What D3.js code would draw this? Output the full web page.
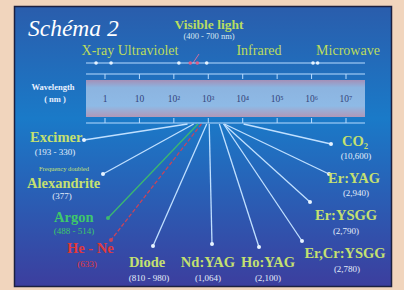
<!DOCTYPE html>
<html>
<head>
<meta charset="utf-8">
<script src="https://cdn.jsdelivr.net/npm/d3@7"></script>
<style>
  body { margin: 0; background: #f1d5bd; }
  svg { display: block; }
  text { font-family: "Liberation Serif", "DejaVu Serif", serif; }
</style>
</head>
<body>
<div id="chart"></div>
<script>
// spectrum ticks (nm)
var tickValues = [1, 10, 100, 1000, 1e4, 1e5, 1e6, 1e7];
var tickLabels = ["1", "10", "10²", "10³", "10⁴", "10⁵", "10⁶", "10⁷"];

// region names above the band
var regionNames = ["X-ray Ultraviolet", "Infrared", "Microwave"];
var regionDots = [0.55, 1.5, 140, 300, 480, 900, 1.1e6, 1.5e6];

// lasers
var laserNames = ["Excimer", "Alexandrite", "Argon", "He - Ne", "Diode", "Nd:YAG",
                  "Ho:YAG", "Er,Cr:YSGG", "Er:YSGG", "Er:YAG", "CO₂"];
var laserNm = [250, 377, 500, 633, 900, 1064, 2100, 2780, 2790, 2940, 10600];
var laserRange = ["(193 - 330)", "(377)", "(488 - 514)", "(633)", "(810 - 980)", "(1,064)",
                  "(2,100)", "(2,780)", "(2,790)", "(2,940)", "(10,600)"];

// layout for the fan of lines and labels (pixels)
var layout = [
  {ex: 84,  ey: 140, nx: 30,  ny: 142, vx: 55,  vy: 155, a: "start"},
  {ex: 103, ey: 174, nx: 27,  ny: 188, vx: 62,  vy: 199, a: "start"},
  {ex: 108, ey: 218, nx: 54,  ny: 222, vx: 74,  vy: 234, a: "start"},
  {ex: 111, ey: 240, nx: 67,  ny: 253, vx: 87,  vy: 267, a: "start"},
  {ex: 153, ey: 246, nx: 147, ny: 267, vx: 149, vy: 281, a: "middle"},
  {ex: 212, ey: 244, nx: 208, ny: 267, vx: 208, vy: 281, a: "middle"},
  {ex: 259, ey: 247, nx: 268, ny: 267, vx: 268, vy: 281, a: "middle"},
  {ex: 302, ey: 241, nx: 345, ny: 258, vx: 347, vy: 272, a: "middle"},
  {ex: 310, ey: 202, nx: 346, ny: 220, vx: 346, vy: 234, a: "middle"},
  {ex: 329, ey: 174, nx: 354, ny: 183, vx: 356, vy: 196, a: "middle"},
  {ex: 331, ey: 144, nx: 355, ny: 146, vx: 356, vy: 159, a: "middle"}
];
var nameColor = {"Argon": "#3ec86a", "He - Ne": "#e0383a"};
var lineColor = {"Argon": "#3bb870", "He - Ne": "#c8445a"};

var width = 404, height = 290;
var svg = d3.select("#chart").append("svg")
  .attr("width", width).attr("height", height);

var defs = svg.append("defs");
var bg = defs.append("linearGradient").attr("id", "bg")
  .attr("x1", 0).attr("y1", 0).attr("x2", 0).attr("y2", 1);
bg.append("stop").attr("offset", "0%").attr("stop-color", "#2a5dac");
bg.append("stop").attr("offset", "40%").attr("stop-color", "#1a7ac8");
bg.append("stop").attr("offset", "100%").attr("stop-color", "#3c3e9e");

var band = defs.append("linearGradient").attr("id", "band")
  .attr("x1", 0).attr("y1", 0).attr("x2", 0).attr("y2", 1);
band.append("stop").attr("offset", "0%").attr("stop-color", "#a490b8");
band.append("stop").attr("offset", "20%").attr("stop-color", "#8cb4e0");
band.append("stop").attr("offset", "70%").attr("stop-color", "#8ebae6");
band.append("stop").attr("offset", "100%").attr("stop-color", "#b098b8");

// panel
svg.append("rect")
  .attr("x", 14.5).attr("y", 6.5).attr("width", 377).attr("height", 280)
  .attr("fill", "url(#bg)").attr("stroke", "#1c2040").attr("stroke-width", 1.5);

svg.append("text")
  .attr("x", 28).attr("y", 36)
  .attr("font-size", 23.5).attr("font-style", "italic")
  .attr("fill", "#ffffff").text("Schéma 2");

var x = d3.scaleLog().domain([1, 1e7]).range([105, 346]);

// visible light label
svg.append("text").attr("x", 209).attr("y", 29).attr("text-anchor", "middle")
  .attr("font-size", 13.5).attr("font-weight", "bold").attr("fill", "#b8dc62")
  .text("Visible light");
svg.append("text").attr("x", 209).attr("y", 39).attr("text-anchor", "middle")
  .attr("font-size", 8.5).attr("fill", "#d8e8f0")
  .text("(400 - 700 nm)");
svg.append("line").attr("x1", 199).attr("y1", 54).attr("x2", 193).attr("y2", 63)
  .attr("stroke", "#d070a0").attr("stroke-width", 1);

// region names
var regionX = [130, 259, 348];
svg.selectAll(".region").data(regionNames).enter().append("text")
  .attr("x", function(d, i) { return regionX[i]; })
  .attr("y", 55).attr("text-anchor", "middle")
  .attr("font-size", 14).attr("fill", "#bcdc5e")
  .text(function(d) { return d; });

// top line with dots
svg.append("line").attr("x1", 86).attr("x2", 365).attr("y1", 63).attr("y2", 63)
  .attr("stroke", "#b8dcff").attr("stroke-width", 1.2);
svg.selectAll(".rdot").data(regionDots).enter().append("circle")
  .attr("cx", function(d) { return x(d); }).attr("cy", 63).attr("r", 1.8)
  .attr("fill", function(d) { return d >= 300 && d <= 480 ? "#e0608a" : "#e8f4ff"; });

// line above band with ticks down
var axisTop = svg.append("g").attr("transform", "translate(0,74)");
axisTop.append("line").attr("x1", 86).attr("x2", 365)
  .attr("stroke", "#b8dcff").attr("stroke-width", 1);
axisTop.selectAll("line.t").data(tickValues).enter().append("line")
  .attr("class", "t").attr("x1", function(d) { return x(d); }).attr("x2", function(d) { return x(d); })
  .attr("y1", 0).attr("y2", 5).attr("stroke", "#b8dcff");

// band
svg.append("rect").attr("x", 86).attr("y", 80).attr("width", 279).attr("height", 37)
  .attr("fill", "url(#band)");
svg.selectAll(".tl").data(tickValues).enter().append("text")
  .attr("x", function(d) { return x(d); }).attr("y", 102)
  .attr("text-anchor", "middle").attr("font-size", 9.5).attr("fill", "#34447a")
  .text(function(d, i) { return tickLabels[i]; });

svg.append("text").attr("x", 53).attr("y", 90).attr("text-anchor", "middle")
  .attr("font-size", 8.5).attr("font-weight", "bold").attr("fill", "#e8f0ff").text("Wavelength");
svg.append("text").attr("x", 55).attr("y", 102).attr("text-anchor", "middle")
  .attr("font-size", 8.5).attr("font-weight", "bold").attr("fill", "#e8f0ff").text("( nm )");

// line below band with ticks up
var axisBot = svg.append("g").attr("transform", "translate(0,123)");
axisBot.append("line").attr("x1", 86).attr("x2", 365)
  .attr("stroke", "#b8dcff").attr("stroke-width", 1.2);
axisBot.selectAll("line.t").data(tickValues).enter().append("line")
  .attr("class", "t").attr("x1", function(d) { return x(d); }).attr("x2", function(d) { return x(d); })
  .attr("y1", 0).attr("y2", -5).attr("stroke", "#b8dcff");

// fan of lines
var lasers = laserNames.map(function(n, i) {
  return {name: n, nm: laserNm[i], range: laserRange[i], p: layout[i]};
});

svg.selectAll(".fan").data(lasers).enter().append("line")
  .attr("x1", function(d) { return x(d.nm); }).attr("y1", 124)
  .attr("x2", function(d) { return d.p.ex; }).attr("y2", function(d) { return d.p.ey; })
  .attr("stroke", function(d) { return lineColor[d.name] || "#c0e0ff"; })
  .attr("stroke-width", 1.3)
  .attr("stroke-dasharray", function(d) { return d.name === "He - Ne" ? "4,2" : null; });
svg.selectAll(".end").data(lasers).enter().append("circle")
  .attr("cx", function(d) { return d.p.ex; }).attr("cy", function(d) { return d.p.ey; })
  .attr("r", 2).attr("fill", function(d) { return lineColor[d.name] || "#e8f4ff"; });

svg.selectAll(".name").data(lasers).enter().append("text")
  .attr("x", function(d) { return d.p.nx; }).attr("y", function(d) { return d.p.ny; })
  .attr("text-anchor", function(d) { return d.p.a; })
  .attr("font-size", 14.5).attr("font-weight", "bold")
  .attr("fill", function(d) { return nameColor[d.name] || "#c4e070"; })
  .text(function(d) { return d.name; });

svg.selectAll(".range").data(lasers).enter().append("text")
  .attr("x", function(d) { return d.p.vx; }).attr("y", function(d) { return d.p.vy; })
  .attr("text-anchor", "middle").attr("font-size", 9)
  .attr("fill", function(d) { return nameColor[d.name] || "#e4eefa"; })
  .text(function(d) { return d.range; });

svg.append("text").attr("x", 64).attr("y", 170.5).attr("text-anchor", "middle")
  .attr("font-size", 6.5).attr("fill", "#c4e070").text("Frequency doubled");
</script>
</body>
</html>
